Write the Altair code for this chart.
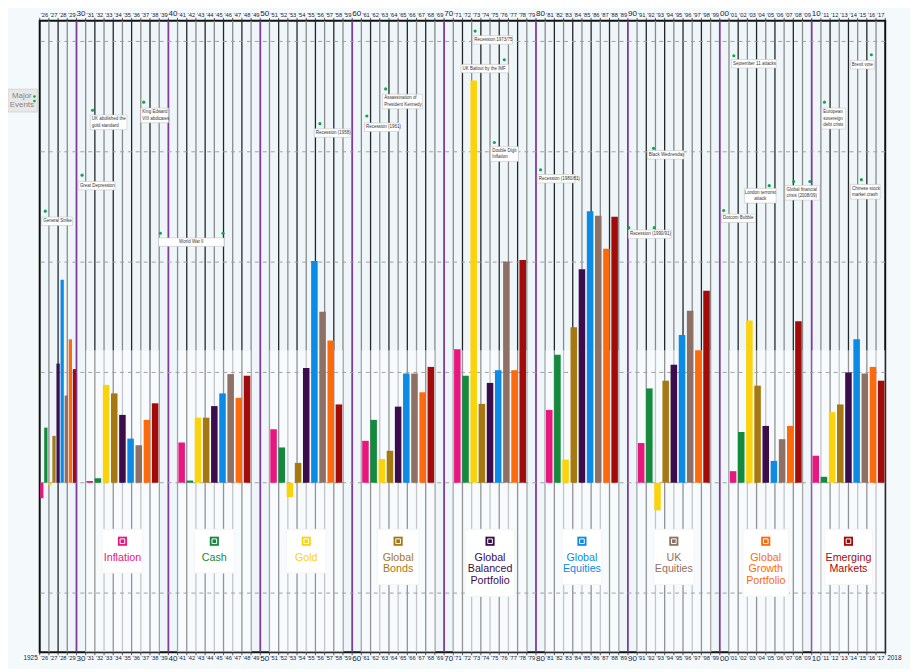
import altair as alt
import pandas as pd

# ------------------------------------------------------------------ data
decade_names = ["1920s", "1930s", "1940s", "1950s", "1960s",
                "1970s", "1980s", "1990s", "2000s", "2010s"]
first_year = [1926, 1930, 1940, 1950, 1960, 1970, 1980, 1990, 2000, 2010]
last_year = [1929, 1939, 1949, 1959, 1969, 1979, 1989, 1999, 2009, 2017]

series = ["Inflation", "Cash", "Gold", "Global Bonds", "Global Balanced Portfolio",
          "Global Equities", "UK Equities", "Global Growth Portfolio", "Emerging Markets"]
series_labels = ["Inflation", "Cash", "Gold", "Global\nBonds", "Global\nBalanced\nPortfolio",
                 "Global\nEquities", "UK\nEquities", "Global\nGrowth\nPortfolio", "Emerging\nMarkets"]

inflation = [-1.4, 0.15, 3.65, 4.85, 3.8, 12.1, 6.6, 3.6, 1.05, 2.45]
cash = [5.0, 0.4, 0.2, 3.2, 5.7, 9.7, 11.6, 8.55, 4.6, 0.54]
gold = [-0.2, 8.87, 5.9, -1.3, 2.15, 36.45, 2.1, -2.5, 14.7, 6.4]
global_bonds = [4.25, 8.1, 5.9, 1.8, 2.9, 7.15, 14.1, 9.25, 8.8, 7.1]
global_balanced = [10.8, 6.15, 6.95, 10.4, 6.9, 9.05, 19.35, 10.7, 5.15, 10.0]
global_equities = [18.4, 4.0, 8.1, 20.1, 9.9, 10.2, 24.6, 13.4, 1.98, 13.0]
uk_equities = [7.9, 3.4, 9.85, 15.5, 9.9, 20.05, 24.2, 15.6, 3.95, 9.9]
global_growth = [13.0, 5.7, 7.7, 12.9, 8.2, 10.2, 21.2, 12.0, 5.15, 10.5]
emerging_markets = [10.3, 7.2, 9.7, 7.1, 10.5, 20.2, 24.1, 17.4, 14.65, 9.25]

values = [inflation, cash, gold, global_bonds, global_balanced,
          global_equities, uk_equities, global_growth, emerging_markets]

# major events: text, marker positions (year axis), marker level (%)
event_text = ["General Strike", "Great Depression", "UK abolished the\ngold standard",
              "King Edward\nVIII abdicates", "World War II", "Recession (1958)",
              "Recession (1961)", "Assassination of\nPresident Kennedy", "Recession 1973/75",
              "UK Bailout by the IMF", "Double Digit\nInflation", "Recession (1980/81)",
              "Recession (1990/91)", "Black Wednesday", "Dotcom Bubble",
              "September 11 attacks", "London terrorist\nattack",
              "Global financial\ncrisis (2008/09)", "European\nsovereign\ndebt crisis",
              "Chinese stock\nmarket crash", "Brexit vote"]
event_years = [[1925.61], [1929.61], [1930.75], [1936.32], [1938.13, 1944.95], [1955.49],
               [1960.59], [1962.64], [1972.38], [1975.55], [1974.47], [1979.50],
               [1989.10, 1991.87], [1991.79], [1999.42], [2000.53], [2004.38],
               [2007.04, 2008.80], [2010.39], [2014.41], [2015.49]]
event_level = [24.62, 27.88, 33.76, 34.50, 22.61, 32.55, 33.24, 35.70, 40.94, 38.34,
               30.84, 28.36, 23.12, 30.31, 24.68, 38.70, 26.93, 27.31, 34.50, 27.47, 38.79]

# annotation layout (label box placement)
label_left = [1925.22, 1929.21, 1930.50, 1936.00, 1937.94, 1954.87, 1960.34, 1962.32,
              1972.13, 1970.84, 1974.07, 1979.14, 1989.06, 1991.11, 1999.20, 2000.28,
              2001.68, 2006.10, 2010.10, 2013.22, 2013.22]
label_top = [24.08, 27.31, 33.33, 33.96, 22.19, 32.08, 32.61, 35.22, 40.52, 37.92,
             30.46, 27.94, 22.91, 30.10, 24.35, 38.36, 26.68, 26.95, 33.96, 27.04, 38.27]
label_wpx = [31, 37, 37, 28, 66, 37, 35, 40, 40, 48, 28, 38, 43, 37, 34, 45, 32, 35, 24, 30, 24]
label_align = ["left"] * 21
label_align[4] = "center"
label_align[16] = "center"
label_align[20] = "center"

# ------------------------------------------------------------------ styling
colors = ["#e8177d", "#148a3c", "#fbd30c", "#a67812", "#3b0d4d",
          "#0b8ae6", "#8e7064", "#fd6a0b", "#a30b0b"]
legend_wpx = [41, 40, 40, 42, 50, 40, 41, 46, 48]
FONT = "Liberation Sans, Arial, sans-serif"

W, H = 853, 637
X0, X1 = 1925, 2017
Y0, Y1 = -15.36, 41.87
PXX = W / (X1 - X0)      # px per year unit
PXY = H / (Y1 - Y0)      # px per percent

xs = alt.Scale(domain=[X0, X1], nice=False, zero=False)
ys = alt.Scale(domain=[Y0, Y1], nice=False, zero=False)

# ------------------------------------------------------------------ tables
bar_rows, overlay_rows, legend_rows = [], [], []
for d in range(len(decade_names)):
    s, e = first_year[d] - 1, last_year[d]
    w = min(8, e - s)
    c = (s + e) / 2
    left = c - w / 2
    slot = w / 9
    for j, name in enumerate(series):
        bar_rows.append({"decade": decade_names[d], "series": name,
                         "x": left + j * slot + 0.1 * slot,
                         "x2": left + (j + 1) * slot - 0.1 * slot,
                         "v": values[j][d], "zero": 0})
    if d > 0:
        j = d - 1
        overlay_rows.append({"x": left, "x2": left + w, "y": 12, "y2": Y0})
        n = series_labels[j].count("\n") + 1
        hw = legend_wpx[j] / 2 / PXX
        legend_rows.append({"series": series[j], "text": series_labels[j], "c": c,
                            "x": c - hw, "x2": c + hw,
                            "top": -4.22,
                            "bottom": -(575 + (n - 1) * 11.8 - 484) / PXY,
                            "icon": -5.3, "ty": -6.25})
bars = pd.DataFrame(bar_rows)
overlay = pd.DataFrame(overlay_rows)
legend_df = pd.DataFrame(legend_rows)

bounds = pd.DataFrame({"t": list(range(X0 + 1, X1))})
bounds["kind"] = ["decade" if t % 10 == 9 else ("odd" if t % 2 else "even") for t in bounds["t"]]
all_bounds = pd.DataFrame({"t": list(range(X0, X1 + 1))})

years = pd.DataFrame({"year": list(range(1926, 2018))})
years["pos"] = years["year"] - 0.5
years["lab"] = ["%02d" % (y % 100) if y % 10 == 0 else "\u2019%02d" % (y % 100) for y in years["year"]]
years["dec"] = years["year"] % 10 == 0

ends = pd.DataFrame({"t": [X0, X1], "lab": ["1925", "2018"], "al": ["right", "left"]})

ev_box, ev_dot = [], []
for i, txt in enumerate(event_text):
    n = txt.count("\n") + 1
    left = label_left[i]
    wt = label_wpx[i] / PXX
    top = label_top[i]
    bottom = top - (6.3 * n + 2.2) / PXY
    tx = left + 1.5 / PXX if label_align[i] == "left" else left + wt / 2
    ev_box.append({"text": txt, "x": left, "x2": left + wt, "y": top, "y2": bottom,
                   "tx": tx, "ty": top - 1.3 / PXY, "al": label_align[i]})
    for yr in event_years[i]:
        ev_dot.append({"t": yr, "v": event_level[i]})
ev_box = pd.DataFrame(ev_box)
ev_dot = pd.DataFrame(ev_dot)

grid = pd.DataFrame({"g": [-10, 0, 10, 20, 30, 40]})

# ------------------------------------------------------------------ layers
X = lambda f: alt.X(f, type="quantitative", scale=xs, axis=None)
Y = lambda f: alt.Y(f, type="quantitative", scale=ys, axis=None)

yaxis = alt.Axis(values=[-10, 0, 10, 20, 30, 40], labelExpr="datum.value + '%'",
                 grid=False, domain=False, tickSize=10, tickDash=[3, 3],
                 tickColor="#a8a8a8", labelPadding=1, labelFont=FONT,
                 labelFontSize=12, labelColor="#1a1a6e", title=None)

layers = []

# year separator lines
line_style = {"even": ("#8a8a8a", 1.3), "odd": ("#262626", 1.3), "decade": ("#7d3c98", 1.8)}
for k, (col, sw) in line_style.items():
    layers.append(alt.Chart(bounds).transform_filter(alt.datum.kind == k)
                  .mark_rule(color=col, strokeWidth=sw).encode(x=X("t")))

# translucent white band behind legend area
layers.append(alt.Chart(overlay).mark_rect(color="white", opacity=0.5)
              .encode(x=X("x"), x2="x2", y=alt.Y("y:Q", scale=ys, axis=yaxis), y2="y2"))

# dashed horizontal grid
layers.append(alt.Chart(grid).mark_rule(color="#a0a0a0", strokeDash=[4, 4], strokeWidth=1)
              .encode(y=Y("g")))

# bars
layers.append(alt.Chart(bars).mark_bar(opacity=1)
              .encode(x=X("x"), x2="x2", y=Y("v"), y2="zero",
                      color=alt.Color("series:N", scale=alt.Scale(domain=series, range=colors),
                                      legend=None)))

# event label boxes and text
layers.append(alt.Chart(ev_box).mark_rect(fill="white", stroke="#c4c4c4", strokeWidth=0.6)
              .encode(x=X("x"), x2="x2", y=Y("y"), y2="y2"))
for al in ["left", "center"]:
    layers.append(alt.Chart(ev_box).transform_filter(alt.datum.al == al)
                  .mark_text(align=al, baseline="top", lineBreak="\n", lineHeight=6.3,
                             font=FONT, fontSize=4.5, color="#333333")
                  .encode(x=X("tx"), y=Y("ty"), text="text:N"))
layers.append(alt.Chart(ev_dot).mark_circle(size=10, color="#12a548", opacity=1)
              .encode(x=X("t"), y=Y("v")))

# decade legend boxes
layers.append(alt.Chart(legend_df).mark_rect(fill="white", stroke="#f4f4f4", strokeWidth=1)
              .encode(x=X("x"), x2="x2", y=Y("top"), y2="bottom"))
layers.append(alt.Chart(legend_df).mark_square(size=85, opacity=1)
              .encode(x=X("c"), y=Y("icon"),
                      color=alt.Color("series:N", scale=alt.Scale(domain=series, range=colors),
                                      legend=None)))
layers.append(alt.Chart(legend_df).mark_square(size=22, filled=False, stroke="white",
                                                strokeWidth=1, opacity=1)
              .encode(x=X("c"), y=Y("icon")))
layers.append(alt.Chart(legend_df).mark_text(align="center", baseline="top", lineBreak="\n",
                                              lineHeight=11.8, font=FONT, fontSize=10.8)
              .encode(x=X("c"), y=Y("ty"), text="text:N",
                      color=alt.Color("series:N", scale=alt.Scale(domain=series, range=colors),
                                      legend=None)))

# year tick marks and labels, top and bottom
layers.append(alt.Chart(all_bounds).mark_rule(color="#333", strokeWidth=0.8)
              .encode(x=X("t"), y=alt.value(-3), y2=alt.value(0)))
layers.append(alt.Chart(all_bounds).mark_rule(color="#333", strokeWidth=0.8)
              .encode(x=X("t"), y=alt.value(H), y2=alt.value(H + 3)))
for dec, fs in [(False, 5.8), (True, 8.2)]:
    sub = years[years["dec"] == dec]
    layers.append(alt.Chart(sub).mark_text(baseline="bottom", font=FONT, fontSize=fs,
                                           color="#1a1a3a")
                  .encode(x=X("pos"), y=alt.value(-2.5), text="lab:N"))
    layers.append(alt.Chart(sub).mark_text(baseline="top", font=FONT, fontSize=fs,
                                           color="#1a1a3a")
                  .encode(x=X("pos"), y=alt.value(H + 2.5), text="lab:N"))
for al, dx in [("right", -2), ("left", 2)]:
    layers.append(alt.Chart(ends).transform_filter(alt.datum.al == al)
                  .mark_text(align=al, dx=dx, baseline="top", font=FONT, fontSize=6.5,
                             color="#1a1a3a")
                  .encode(x=X("t"), y=alt.value(H + 2.5), text="lab:N"))

# "Major Events" key
layers.append(alt.Chart(pd.DataFrame({"k": [0]})).mark_rect(fill="#e8e8e8", stroke="#cfcfcf",
                                                             strokeWidth=0.8)
              .encode(x=alt.value(-32), x2=alt.value(-2), y=alt.value(69), y2=alt.value(92)))
layers.append(alt.Chart(pd.DataFrame({"txt": ["Major", "Events"], "yy": [75.5, 85]}))
              .mark_text(align="center", baseline="middle", font=FONT, fontSize=8,
                         color="#858585")
              .encode(x=alt.value(-18), y=alt.Y("yy:Q", scale=None), text="txt:N"))
layers.append(alt.Chart(pd.DataFrame({"yy": [76.3, 81]}))
              .mark_circle(size=7, color="#12a548", opacity=1)
              .encode(x=alt.value(-5.3), y=alt.Y("yy:Q", scale=None)))

chart = (alt.layer(*layers)
         .properties(width=W, height=H, background="#f4f9fc",
                     padding={"left": 32, "top": 10, "right": 25, "bottom": 14},
                     autosize=alt.AutoSizeParams(type="none"))
         .configure_view(fill="#eef6fa", stroke="#111111", strokeWidth=2))

chart.save("out.html", embed_options={"renderer": "svg", "actions": False})
